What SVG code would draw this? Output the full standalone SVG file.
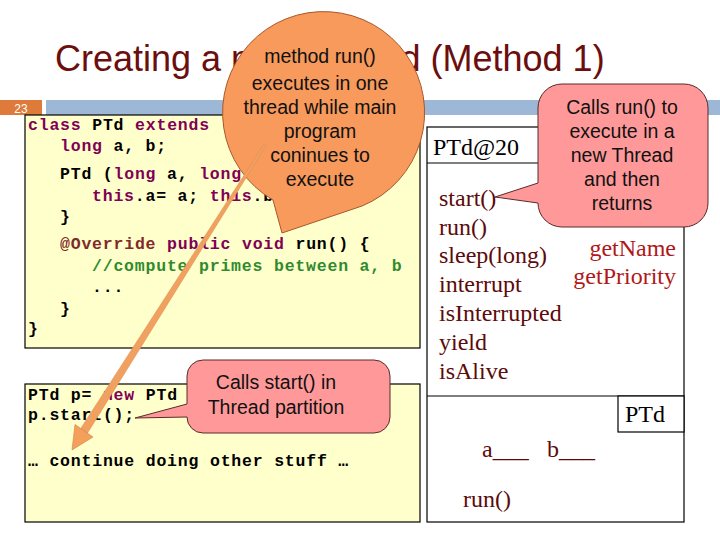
<svg xmlns="http://www.w3.org/2000/svg" width="720" height="540" viewBox="0 0 720 540">
<style>
.code{font-family:"Liberation Mono","Courier New",monospace;font-weight:bold;font-size:16.5px;letter-spacing:0.8px;fill:#000}
.kw{fill:#7f0055}
.cm{fill:#2f8a2f}
.an{fill:#802a2a}
.sans{font-family:"Liberation Sans",Arial,sans-serif;font-size:19.5px;fill:#111;text-anchor:middle}
.serif{font-family:"Liberation Serif","Times New Roman",serif;font-size:24px}
.meth{fill:#5c0a0a}
.meth2{fill:#b01818}
.box{fill:#ffffcc;stroke:#000;stroke-width:1.2}
.obj{fill:#fff;stroke:#000;stroke-width:1.2}
.pink{fill:#ff9999;stroke:#5a2a2a;stroke-width:1}
</style>
<rect width="720" height="540" fill="#fff"/>
<text x="55" y="71" font-family="Liberation Sans,Arial,sans-serif" font-size="36" fill="#6b0e0e">Creating a new Thread (Method 1)</text>
<g id="slidebar">
<rect x="0" y="100" width="42" height="15" fill="#de7b3a"/>
<text x="21" y="112.5" font-family="Liberation Sans,Arial,sans-serif" font-size="12" fill="#fff" text-anchor="middle">23</text>
<rect x="46" y="100" width="674" height="15" fill="#9cb8d6"/>
</g>
<g id="classbox">
<rect class="box" x="25" y="115" width="395" height="233"/>
<text class="code" x="28" y="130"><tspan class="kw">class</tspan> PTd <tspan class="kw">extends</tspan></text>
<text class="code" x="60" y="151"><tspan class="kw">long</tspan> a, b;</text>
<text class="code" x="60" y="179">PTd (<tspan class="kw">long</tspan> a, <tspan class="kw">long</tspan></text>
<text class="code" x="92" y="201"><tspan class="kw">this</tspan>.a= a; <tspan class="kw">this</tspan>.b</text>
<text class="code" x="60" y="222">}</text>
<text class="code" x="60" y="249"><tspan class="an">@Override</tspan> <tspan class="kw">public</tspan> <tspan class="kw">void</tspan> run() {</text>
<text class="code cm" x="92" y="271">//compute primes between a, b</text>
<text class="code" x="92" y="292">...</text>
<text class="code" x="60" y="314">}</text>
<text class="code" x="28" y="334">}</text>
</g>
<g id="mainbox">
<rect class="box" x="25" y="384" width="395" height="138"/>
<text class="code" x="28" y="400">PTd p= <tspan class="kw">new</tspan> PTd</text>
<text class="code" x="28" y="420">p.start();</text>
<text class="code" x="28" y="466">… continue doing other stuff …</text>
</g>
<g id="threadobj">
<rect class="obj" x="427" y="127" width="257" height="395"/>
<line x1="427" y1="163" x2="684" y2="163" stroke="#000" stroke-width="1.2"/>
<line x1="427" y1="396" x2="684" y2="396" stroke="#000" stroke-width="1.2"/>
<rect class="obj" x="618" y="396" width="66" height="36"/>
<text class="serif" x="433" y="155" font-size="23" fill="#000">PTd@20</text>
<text class="serif meth" x="439" y="206">start()</text>
<text class="serif meth" x="439" y="235">run()</text>
<text class="serif meth" x="439" y="263">sleep(long)</text>
<text class="serif meth" x="439" y="292">interrupt</text>
<text class="serif meth" x="439" y="321">isInterrupted</text>
<text class="serif meth" x="439" y="350">yield</text>
<text class="serif meth" x="439" y="379">isAlive</text>
<text class="serif meth2" x="676" y="256" text-anchor="end">getName</text>
<text class="serif meth2" x="676" y="284" text-anchor="end">getPriority</text>
<text class="serif" x="625" y="422" fill="#000">PTd</text>
<text class="serif meth" x="482" y="457">a___</text>
<text class="serif meth" x="547" y="457">b___</text>
<text class="serif meth" x="463" y="507">run()</text>
</g>
<g id="callout-run">
<path d="M273,200 A101,101 0 1 1 362,206 L282,233 Z" fill="#f79a5c" stroke="#a8582a" stroke-width="1"/>
<text class="sans" x="320" y="63">method run()</text>
<text class="sans" x="320" y="90">executes in one</text>
<text class="sans" x="320" y="114">thread while main</text>
<text class="sans" x="320" y="138">program</text>
<text class="sans" x="320" y="162">coninues to</text>
<text class="sans" x="320" y="186">execute</text>
</g>
<g id="callout-start">
<path class="pink" d="M203,360 H374 A16,16 0 0 1 390,376 V417 A16,16 0 0 1 374,433 H203 A16,16 0 0 1 187,417 L135,418 L187,404 V376 A16,16 0 0 1 203,360 Z"/>
<text class="sans" x="276" y="389">Calls start() in</text>
<text class="sans" x="276" y="414">Thread partition</text>
</g>
<g id="callout-thread">
<path class="pink" d="M562,84 H684 A24,24 0 0 1 708,108 V203 A24,24 0 0 1 684,227 H562 A24,24 0 0 1 538,203 L495,197 L538,183 V108 A24,24 0 0 1 562,84 Z" stroke="#2a1a1a"/>
<text class="sans" x="622" y="114">Calls run() to</text>
<text class="sans" x="622" y="138">execute in a</text>
<text class="sans" x="622" y="162">new Thread</text>
<text class="sans" x="622" y="186">and then</text>
<text class="sans" x="622" y="210">returns</text>
</g>
<g id="connectors">
<polygon points="266.1,145.7 87.5,433.2 80.5,428.8 263.9,144.3" fill="#f0a060" stroke="#d88a4a" stroke-width="0.4"/>
<polygon points="72,450 93,437 75,424.5" fill="#f5a05a" stroke="#c8824a" stroke-width="0.6"/>
</g>
</svg>
